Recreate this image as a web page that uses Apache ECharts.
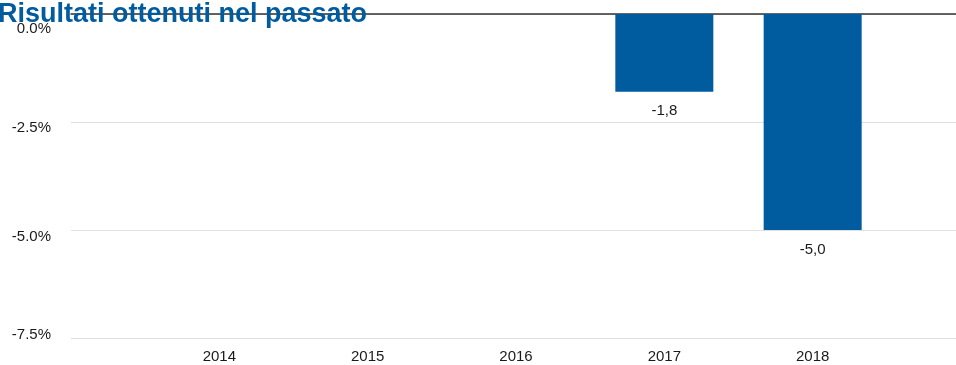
<!DOCTYPE html>
<html>
<head>
<meta charset="utf-8">
<script src="https://cdn.jsdelivr.net/npm/echarts@6/dist/echarts.min.js"></script>
<style>html,body{margin:0;padding:0;background:#fff}#c{width:956px;height:365px}</style>
</head>
<body>
<div id="c"></div>
<script>
const titleText = 'Risultati ottenuti nel passato';
const categories = ['2014', '2015', '2016', '2017', '2018'];
const values = [null, null, null, -1.8, -5.0];
const yTicks = [0, -2.5, -5.0, -7.5];

const axisData = [''].concat(categories, ['']);
const seriesData = [null].concat(values, [null]);
const blue = '#005B9F';
const font = 'Liberation Sans, Arial, sans-serif';

const labelShift = { '0': [30, 0, 0, 0], '-2.5': [12, 0, 0, 0], '-5': [14, 0, 0, 0], '-7.5': [0, 0, 6, 0] };

const chart = echarts.init(document.getElementById('c'), null, { renderer: 'canvas' });
chart.setOption({
  animation: false,
  title: {
    text: titleText, left: -2, top: 1, padding: 0,
    textStyle: { fontFamily: font, fontSize: 27, fontWeight: 'bold', color: blue }
  },
  grid: { left: 71, width: 890, top: 14, bottom: 27, containLabel: false, outerBoundsMode: 'none' },
  xAxis: [{
    type: 'category', data: axisData, boundaryGap: false, position: 'bottom',
    axisLine: { show: false }, axisTick: { show: false }, splitLine: { show: false },
    axisLabel: { fontFamily: font, fontSize: 15, color: '#1a1a1a', margin: 11, interval: 0 }
  }, {
    type: 'category', data: axisData, boundaryGap: false, position: 'top',
    axisLine: { show: true, onZero: false, lineStyle: { color: '#333', width: 1.5 } },
    axisTick: { show: false }, axisLabel: { show: false }, splitLine: { show: false }
  }],
  yAxis: {
    type: 'value', min: -7.5, max: 0, interval: 2.5,
    axisLine: { show: false }, axisTick: { show: false },
    splitLine: { show: true, lineStyle: { color: '#e0e0e0', width: 1 } },
    axisLabel: {
      margin: 20, fontFamily: font, fontSize: 15, color: '#1a1a1a',
      formatter: function (v) {
        const key = String(Number(v));
        const k = { '0': 'a', '-2.5': 'b', '-5': 'c', '-7.5': 'd' }[key] || 'b';
        return '{' + k + '|' + v.toFixed(1) + '%}';
      },
      rich: {
        a: { fontFamily: font, fontSize: 15, color: '#1a1a1a', padding: labelShift['0'] },
        b: { fontFamily: font, fontSize: 15, color: '#1a1a1a', padding: labelShift['-2.5'] },
        c: { fontFamily: font, fontSize: 15, color: '#1a1a1a', padding: labelShift['-5'] },
        d: { fontFamily: font, fontSize: 15, color: '#1a1a1a', padding: labelShift['-7.5'] }
      }
    }
  },
  series: [{
    type: 'bar', data: seriesData, barWidth: 98, xAxisIndex: 0,
    itemStyle: { color: blue },
    label: {
      show: true, position: 'bottom', distance: 12,
      fontFamily: font, fontSize: 15, color: '#1a1a1a',
      formatter: function (p) { return p.value == null ? '' : p.value.toFixed(1).replace('.', ','); }
    }
  }]
});
</script>
</body>
</html>
